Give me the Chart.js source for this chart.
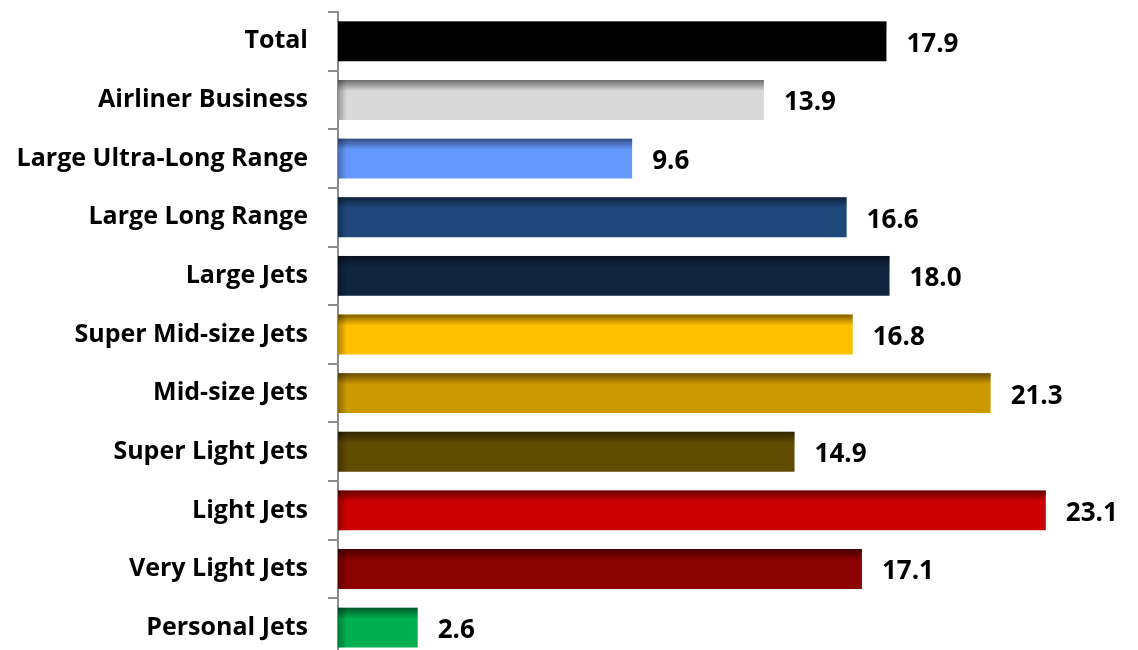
<!DOCTYPE html>
<html>
<head>
<meta charset="utf-8">
<script src="https://cdn.jsdelivr.net/npm/chart.js@4/dist/chart.umd.min.js"></script>
<style>
  html, body { margin: 0; padding: 0; background: #fff; overflow: hidden; }
  canvas { display: block; margin-top: -23px; }
</style>
</head>
<body>
<canvas id="barChart" width="1138" height="715"></canvas>
<script>
const categories = ['Total', 'Airliner Business', 'Large Ultra-Long Range', 'Large Long Range',
  'Large Jets', 'Super Mid-size Jets', 'Mid-size Jets', 'Super Light Jets', 'Light Jets',
  'Very Light Jets', 'Personal Jets'];
const values = [17.9, 13.9, 9.6, 16.6, 18.0, 16.8, 21.3, 14.9, 23.1, 17.1, 2.6];
const barColors = ['#000000', '#d9d9d9', '#6699ff', '#1f497d', '#10243f', '#ffc000',
  '#cc9900', '#5f4a00', '#cc0000', '#8b0000', '#00b050'];

const FONT = '"Open Sans", Lato, sans-serif';

// bevel-like shading on top and left edge of each bar, plus value labels
const barExtras = {
  id: 'barExtras',
  afterDatasetsDraw(chart) {
    const ctx = chart.ctx;
    const meta = chart.getDatasetMeta(0);
    meta.data.forEach((bar, i) => {
      const top = bar.y - bar.height / 2;
      const left = bar.base;
      const w = bar.x - bar.base;
      const h = bar.height;
      ctx.save();
      let g = ctx.createLinearGradient(0, top, 0, top + 11);
      g.addColorStop(0, 'rgba(0,0,0,0.5)');
      g.addColorStop(1, 'rgba(0,0,0,0)');
      ctx.fillStyle = g;
      ctx.fillRect(left, top, w, 11);
      g = ctx.createLinearGradient(left, 0, left + 9, 0);
      g.addColorStop(0, 'rgba(0,0,0,0.3)');
      g.addColorStop(1, 'rgba(0,0,0,0)');
      ctx.fillStyle = g;
      ctx.fillRect(left, top, Math.min(9, w), h);

      ctx.fillStyle = '#000';
      ctx.font = 'bold 26px ' + FONT;
      ctx.textAlign = 'left';
      ctx.textBaseline = 'middle';
      ctx.fillText(values[i].toFixed(1), bar.x + 20, bar.y + 3);
      ctx.restore();
    });
  }
};

new Chart(document.getElementById('barChart'), {
  type: 'bar',
  data: {
    labels: categories,
    datasets: [{
      data: values,
      backgroundColor: barColors,
      borderWidth: 0,
      barPercentage: 0.68,
      categoryPercentage: 1.0
    }]
  },
  options: {
    indexAxis: 'y',
    responsive: false,
    animation: false,
    layout: { padding: { top: 0, bottom: 0, left: 0, right: 34 } },
    plugins: {
      legend: { display: false },
      tooltip: { enabled: false }
    },
    scales: {
      x: {
        display: false,
        min: 0,
        max: 25
      },
      y: {
        afterFit(scale) { scale.width = 338; },
        grid: {
          drawOnChartArea: false,
          color: '#8c8c8c',
          lineWidth: 2,
          tickLength: 10
        },
        border: { color: '#8c8c8c', width: 2 },
        ticks: {
          color: '#000',
          padding: 20,
          font: { family: FONT, size: 25, weight: 'bold' }
        }
      }
    }
  },
  plugins: [barExtras]
});
</script>
</body>
</html>
